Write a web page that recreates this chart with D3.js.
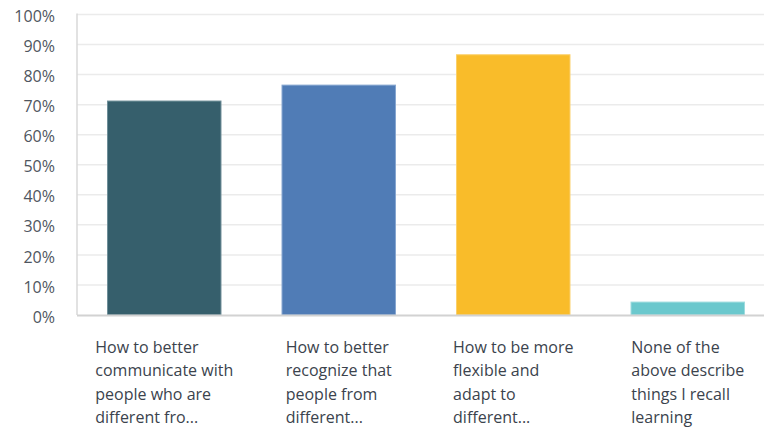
<!DOCTYPE html>
<html><head><meta charset="utf-8">
<script src="https://cdn.jsdelivr.net/npm/d3@7"></script>
<style>body{margin:0;background:#fff}svg{display:block}</style>
</head><body>
<svg id="c" width="764" height="427"></svg>
<script>
const categories = [
  ["How to better", "communicate with", "people who are", "different fro..."],
  ["How to better", "recognize that", "people from", "different..."],
  ["How to be more", "flexible and", "adapt to", "different..."],
  ["None of the", "above describe", "things I recall", "learning"]
];
const values = [71.2, 76.5, 86.6, 4.3];
const colors = ["#365f6c", "#507cb6", "#f9bc2a", "#6bc8cd"];
const strokes = ["#6f8f99", "#86a6d0", "#fbd06a", "#9edbde"];
const yTicks = [0,10,20,30,40,50,60,70,80,90,100];

const svg = d3.select("#c");
const font = "'Open Sans', sans-serif";
const x = d3.scaleBand().domain(d3.range(categories.length)).range([77, 775]).paddingInner(0.344).paddingOuter(0.172);
const y = d3.scaleLinear().domain([0, 100]).range([315, 14.5]);

// gridlines
svg.append("g").selectAll("line").data(yTicks.filter(d => d > 0)).join("line")
  .attr("x1", 77).attr("x2", 764).attr("y1", d => y(d)).attr("y2", d => y(d))
  .attr("stroke", "#ebebeb").attr("stroke-width", 1.5);

// y axis labels
const yAxis = d3.axisLeft(y).tickValues(yTicks).tickFormat(d => d + "%").tickSize(0).tickPadding(0);
const ga = svg.append("g").attr("transform", "translate(55,2)").call(yAxis);
ga.select(".domain").remove();
ga.selectAll("text").attr("font-family", font).attr("font-size", 16).attr("fill", "#4f5660");

// bars
svg.append("g").selectAll("rect").data(values).join("rect")
  .attr("x", (d, i) => x(i) + 0.5).attr("width", x.bandwidth() - 1)
  .attr("y", d => y(d)).attr("height", d => y(0) - y(d))
  .attr("fill", (d, i) => colors[i]).attr("stroke", (d, i) => strokes[i]).attr("stroke-width", 1);

// axis lines
svg.append("line").attr("x1", 77).attr("x2", 77).attr("y1", y(100) - 1).attr("y2", y(0))
  .attr("stroke", "#d9d9d9").attr("stroke-width", 1.5);
svg.append("line").attr("x1", 77).attr("x2", 764).attr("y1", y(0) + 0.5).attr("y2", y(0) + 0.5)
  .attr("stroke", "#d2d2d2").attr("stroke-width", 2);

// category labels
categories.forEach((lines, i) => {
  const g = svg.append("g");
  const t = g.append("text").attr("font-family", font).attr("font-size", 16).attr("fill", "#3b434d");
  t.selectAll("tspan").data(lines).join("tspan")
    .attr("x", 0).attr("y", (d, j) => 353 + j * 23.3).text(d => d);
  let maxW = 0;
  t.selectAll("tspan").each(function() { maxW = Math.max(maxW, this.getComputedTextLength()); });
  const cx = x(i) + x.bandwidth() / 2;
  g.attr("transform", `translate(${cx - maxW / 2},0)`);
});
</script>
</body></html>
